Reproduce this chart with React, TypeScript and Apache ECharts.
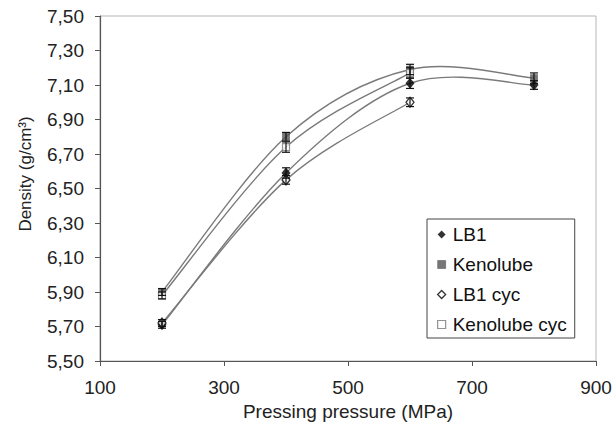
import React, { useEffect, useRef } from "react";
import * as echarts from "echarts";

const pressures = [200, 400, 600, 800];
const lb1 = [5.71, 6.59, 7.11, 7.1];
const lb1Err = [0.02, 0.03, 0.03, 0.025];
const kenolube = [5.9, 6.8, 7.19, 7.14];
const kenolubeErr = [0.02, 0.025, 0.03, 0.03];
const lb1Cyc = [5.72, 6.55, 7.0];
const lb1CycErr = [0.02, 0.025, 0.025];
const kenolubeCyc = [5.88, 6.74, 7.17];
const kenolubeCycErr = [0.02, 0.03, 0.03];
const seriesNames = ["LB1", "Kenolube", "LB1 cyc", "Kenolube cyc"];

const FONT = "'Liberation Sans', Arial, Helvetica, sans-serif";

export default function App() {
  const ref = useRef<HTMLDivElement>(null);
  useEffect(() => {
    if (!ref.current) return;
    const chart = echarts.init(ref.current, undefined, { renderer: "svg" });

    const pts = (vals: number[]) => vals.map((v, i) => [pressures[i], v]);
    const errPts = (vals: number[], errs: number[]) =>
      vals.map((v, i) => [pressures[i], v - errs[i], v + errs[i]]);

    const styles = [
      { symbol: "diamond", size: [9, 11], item: { color: "#000", borderColor: "#000", borderWidth: 0 } },
      { symbol: "rect", size: 7, item: { color: "#555", borderColor: "#333", borderWidth: 0.5 } },
      { symbol: "diamond", size: [8, 10], item: { color: "#fff", borderColor: "#000", borderWidth: 1.3 } },
      { symbol: "rect", size: 7, item: { color: "#fff", borderColor: "#777", borderWidth: 1.2 } },
    ];
    const values = [lb1, kenolube, lb1Cyc, kenolubeCyc];
    const errs = [lb1Err, kenolubeErr, lb1CycErr, kenolubeCycErr];

    // Smooth (Catmull-Rom) curves, positioned through the chart's own axes
    const curveSeries = seriesNames.map((name, k) => {
      const vals = values[k];
      return {
        name: name + " curve",
        type: "custom",
        data: pts(vals),
        z: 2,
        silent: true,
        renderItem: (params: any, api: any) => {
          const i = params.dataIndex;
          if (i >= vals.length - 1) return null;
          const c = (j: number) => api.coord([pressures[j], vals[j]]);
          const p1 = c(i);
          const p2 = c(i + 1);
          const p0 = i > 0 ? c(i - 1) : p1;
          const p3 = i + 2 < vals.length ? c(i + 2) : p2;
          return {
            type: "bezierCurve",
            shape: {
              x1: p1[0],
              y1: p1[1],
              cpx1: p1[0] + (p2[0] - p0[0]) / 6,
              cpy1: p1[1] + (p2[1] - p0[1]) / 6,
              cpx2: p2[0] - (p3[0] - p1[0]) / 6,
              cpy2: p2[1] - (p3[1] - p1[1]) / 6,
              x2: p2[0],
              y2: p2[1],
            },
            style: { stroke: "#7a7a7a", lineWidth: 1.4, fill: "none" },
          };
        },
      };
    });

    const markerSeries = seriesNames.map((name, k) => ({
      name,
      type: "scatter",
      data: pts(values[k]),
      symbol: styles[k].symbol,
      symbolSize: styles[k].size,
      itemStyle: styles[k].item,
      z: 3,
    }));

    const errSeries = seriesNames.map((name, k) => ({
      name: name + " err",
      type: "custom",
      data: errPts(values[k], errs[k]),
      z: 4,
      silent: true,
      renderItem: (params: any, api: any) => {
        const x = api.value(0);
        const lo = api.coord([x, api.value(1)]);
        const hi = api.coord([x, api.value(2)]);
        const w = 4;
        const st = { stroke: "#111", lineWidth: 1.2 };
        return {
          type: "group",
          children: [
            { type: "line", shape: { x1: lo[0], y1: lo[1], x2: hi[0], y2: hi[1] }, style: st },
            { type: "line", shape: { x1: lo[0] - w, y1: lo[1], x2: lo[0] + w, y2: lo[1] }, style: st },
            { type: "line", shape: { x1: hi[0] - w, y1: hi[1], x2: hi[0] + w, y2: hi[1] }, style: st },
          ],
        };
      },
    }));

    chart.setOption({
      animation: false,
      backgroundColor: "#fff",
      textStyle: { fontFamily: FONT },
      grid: {
        left: 100,
        right: 20,
        top: 16,
        bottom: 72,
        show: true,
        borderColor: "#b5b5b5",
        borderWidth: 1,
      },
      xAxis: {
        type: "value",
        min: 100,
        max: 900,
        interval: 200,
        name: "Pressing pressure (MPa)",
        nameLocation: "middle",
        nameGap: 40,
        nameTextStyle: { fontSize: 19, color: "#222", fontFamily: FONT },
        axisLine: { show: true, lineStyle: { color: "#555", width: 1.2 } },
        axisTick: { show: true, length: 5, lineStyle: { color: "#555" } },
        axisLabel: { fontSize: 19, color: "#222", margin: 17, fontFamily: FONT },
        splitLine: { show: false },
      },
      yAxis: {
        type: "value",
        min: 5.5,
        max: 7.5,
        interval: 0.2,
        axisLine: { show: true, lineStyle: { color: "#555", width: 1.2 } },
        axisTick: { show: true, length: 5, lineStyle: { color: "#555" } },
        axisLabel: {
          fontSize: 19,
          color: "#222",
          margin: 16,
          fontFamily: FONT,
          formatter: (v: number) => v.toFixed(2).replace(".", ","),
        },
        splitLine: { show: false },
      },
      legend: {
        orient: "vertical",
        left: 427,
        top: 219,
        padding: [6, 8, 4, 10],
        itemGap: 11,
        itemWidth: 8,
        itemHeight: 8,
        borderColor: "#444",
        borderWidth: 1,
        backgroundColor: "#fff",
        textStyle: { fontSize: 19, color: "#111", fontFamily: FONT, padding: [0, 0, 0, 2] },
        data: seriesNames.map((name, k) => ({
          name,
          icon: styles[k].symbol,
          itemStyle: styles[k].item,
        })),
      },
      graphic: [
        {
          type: "text",
          x: 25,
          y: 174,
          rotation: Math.PI / 2,
          style: {
            text: "Density (g/cm³)",
            fontSize: 17,
            fontFamily: FONT,
            fill: "#222",
            align: "center",
            verticalAlign: "middle",
            textAlign: "center",
            textVerticalAlign: "middle",
          },
        },
      ],
      series: [...curveSeries, ...markerSeries, ...errSeries],
    });
    return () => chart.dispose();
  }, []);
  return (
    <div
      ref={ref}
      style={{ position: "fixed", left: 0, top: 0, width: 616, height: 433 }}
    />
  );
}
